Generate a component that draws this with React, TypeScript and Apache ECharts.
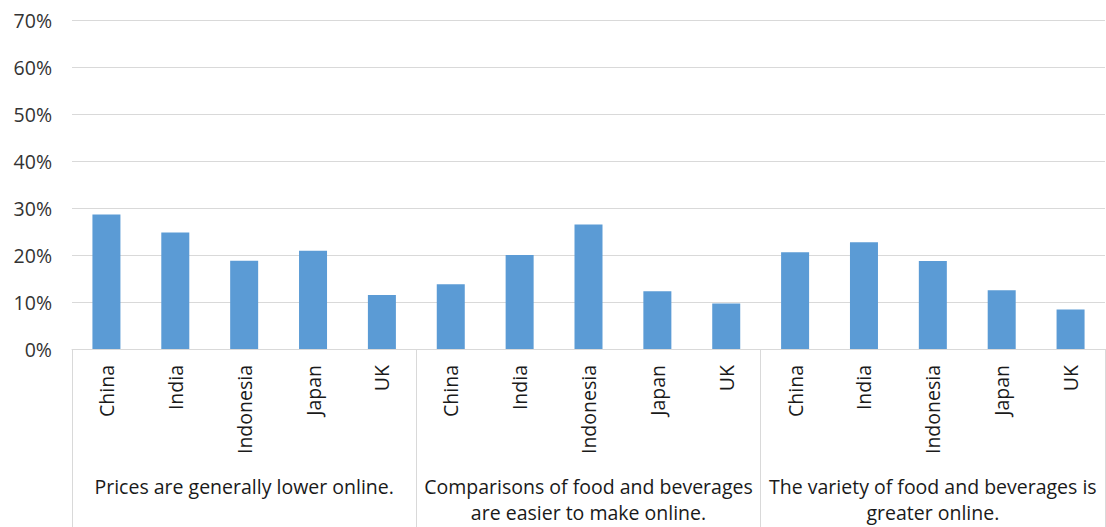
import React, { useEffect, useRef } from "react";
import * as echarts from "echarts";

const countries = ["China", "India", "Indonesia", "Japan", "UK"];
const groups = [
  "Prices are generally lower online.",
  "Comparisons of food and beverages\nare easier to make online.",
  "The variety of food and beverages is\ngreater online.",
];
const pricesLower = [0.286, 0.248, 0.188, 0.209, 0.115];
const comparisonsEasier = [0.138, 0.2, 0.265, 0.123, 0.097];
const varietyGreater = [0.206, 0.227, 0.187, 0.125, 0.084];
const yTicks = { min: 0, max: 0.7, interval: 0.1 };

export default function App() {
  const ref = useRef<HTMLDivElement>(null);
  useEffect(() => {
    if (!ref.current) return;
    const chart = echarts.init(ref.current, undefined, { renderer: "svg" });
    const categories = [...countries, ...countries, ...countries];
    const values = [...pricesLower, ...comparisonsEasier, ...varietyGreater];
    const font = "'Open Sans', 'Noto Sans', sans-serif";
    chart.setOption({
      animation: false,
      grid: { left: 72, right: 1, top: 20, bottom: 178, containLabel: false },
      xAxis: [
        {
          type: "category",
          data: categories,
          position: "bottom",
          axisLine: { show: true, lineStyle: { color: "#d9d9d9", width: 1 } },
          axisTick: { show: false },
          axisLabel: {
            rotate: 90,
            interval: 0,
            margin: 16,
            fontSize: 19.5,
            fontFamily: font,
            color: "#1a1a1a",
          },
        },
        {
          type: "category",
          data: groups,
          position: "bottom",
          boundaryGap: true,
          axisLine: { show: false },
          axisTick: { show: true, length: 178, lineStyle: { color: "#d9d9d9", width: 1 } },
          axisLabel: {
            interval: 0,
            margin: 124,
            fontSize: 19.5,
            lineHeight: 26,
            fontFamily: font,
            color: "#1a1a1a",
            align: "center",
          },
        },
      ],
      yAxis: {
        type: "value",
        min: yTicks.min,
        max: yTicks.max,
        interval: yTicks.interval,
        axisLine: { show: false },
        axisTick: { show: false },
        splitLine: { show: true, lineStyle: { color: "#d9d9d9", width: 1 } },
        axisLabel: {
          margin: 20,
          fontSize: 19.5,
          fontFamily: font,
          color: "#333333",
          formatter: (v: number) => Math.round(v * 100) + "%",
        },
      },
      series: [
        {
          type: "bar",
          xAxisIndex: 0,
          data: values,
          barWidth: 28,
          itemStyle: { color: "#5B9BD5" },
        },
      ],
    });
    return () => chart.dispose();
  }, []);
  return (
    <div
      ref={ref}
      style={{ position: "fixed", left: 0, top: 0, width: 1106, height: 527, background: "#fff" }}
    />
  );
}
